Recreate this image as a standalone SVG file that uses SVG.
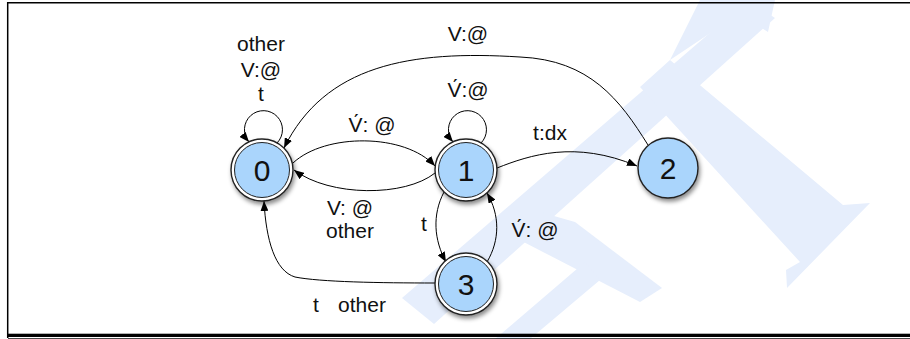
<svg xmlns="http://www.w3.org/2000/svg" width="910" height="339" viewBox="0 0 910 339">
<style>
.lbl{font-family:"Liberation Sans",Arial,sans-serif;font-size:21px;fill:#111;text-anchor:middle}
.num{font-family:"Liberation Sans",Arial,sans-serif;font-size:30px;fill:#111;text-anchor:middle}
.edge{fill:none;stroke:#000;stroke-width:1}
.wm{fill:#e6eefc}
.outer{fill:#fff;stroke:#222;stroke-width:1.4}
.inner{fill:#aad5fc;stroke:#222;stroke-width:1}
.single{fill:#aad5fc;stroke:#222;stroke-width:1.4}
</style>
<defs>
<marker id="arr" viewBox="0 0 10 8" refX="10" refY="4" markerWidth="10" markerHeight="8" markerUnits="userSpaceOnUse" orient="auto">
<path d="M0,0 L10,4 L0,8 z" fill="#000"/>
</marker>
<filter id="sh" x="-30%" y="-30%" width="160%" height="170%">
<feDropShadow dx="1.5" dy="3" stdDeviation="2" flood-color="#000" flood-opacity="0.45"/>
</filter>
</defs>
<rect x="0" y="0" width="910" height="339" fill="#fff"/>
<g id="watermark">
<polygon class="wm" points="402,298 434,324 775,18 748,0"/>
<polygon class="wm" points="640,87 670,60 843,205 870,203 787,288 786,270 800,262"/>
<polygon class="wm" points="670,60 700,0 775,0 768,32 745,18 715,30"/>
<polygon class="wm" points="512,236 540,212 575,222 662,288 640,302"/>
<polygon class="wm" points="495,339 530,339 600,280 585,262"/>
</g>
<g id="frame">
<line x1="7.7" y1="2" x2="7.7" y2="338" stroke="#000" stroke-width="1.5"/>
<line x1="7" y1="2.7" x2="910" y2="2.7" stroke="#000" stroke-width="1.5"/>
<rect x="7" y="333.7" width="903" height="3.3" fill="#000"/>
<line x1="8" y1="338.6" x2="910" y2="338.6" stroke="#000" stroke-width="0.8"/>
</g>
<g id="connectors">
<path class="edge" marker-end="url(#arr)" d="M277,143 A19,19 0 1 0 249,142"/>
<path class="edge" marker-end="url(#arr)" d="M481,143 A19,19 0 1 0 453,142"/>
<path class="edge" marker-end="url(#arr)" d="M293,163 C325,133 405,133 435,166"/>
<path class="edge" marker-end="url(#arr)" d="M435,173 C405,197 330,197 294,170"/>
<path class="edge" marker-end="url(#arr)" d="M497,168 C530,155 575,140 637,166"/>
<path class="edge" marker-end="url(#arr)" d="M648,145 C620,100 590,60 520,57 C410,50 325,65 284,148"/>
<path class="edge" marker-end="url(#arr)" d="M444,192 C432,215 434,240 446,262"/>
<path class="edge" marker-end="url(#arr)" d="M487,262 C500,240 500,215 487,193"/>
<path class="edge" marker-end="url(#arr)" d="M435,283 C380,283 320,282 295,277 C275,271 266,240 264,201"/>
</g>
<g id="edge-labels">
<text class="lbl" x="261" y="51">other</text>
<text class="lbl" x="261" y="77">V:@</text>
<text class="lbl" x="261" y="101">t</text>
<text class="lbl" x="468" y="41">V:@</text>
<text class="lbl" x="468" y="97">V&#x301;:@</text>
<text class="lbl" x="372" y="132">V&#x301;: @</text>
<text class="lbl" x="550" y="140">t:dx</text>
<text class="lbl" x="350" y="215">V: @</text>
<text class="lbl" x="350" y="238">other</text>
<text class="lbl" x="424" y="231">t</text>
<text class="lbl" x="535" y="237">V&#x301;: @</text>
<text class="lbl" x="316" y="312">t<tspan x="362">other</tspan></text>
</g>
<g id="node0">
<g filter="url(#sh)"><circle class="outer" cx="262" cy="170" r="31"/></g>
<circle class="inner" cx="262" cy="170" r="27.5"/>
<text class="num" x="262" y="181">0</text>
</g>
<g id="node1">
<g filter="url(#sh)"><circle class="outer" cx="466" cy="170" r="31"/></g>
<circle class="inner" cx="466" cy="170" r="27.5"/>
<text class="num" x="466" y="181">1</text>
</g>
<g id="node2">
<g filter="url(#sh)"><circle class="single" cx="668" cy="168" r="30"/></g>
<text class="num" x="668" y="179">2</text>
</g>
<g id="node3">
<g filter="url(#sh)"><circle class="outer" cx="466" cy="284" r="31"/></g>
<circle class="inner" cx="466" cy="284" r="27.5"/>
<text class="num" x="466" y="295">3</text>
</g>
</svg>
